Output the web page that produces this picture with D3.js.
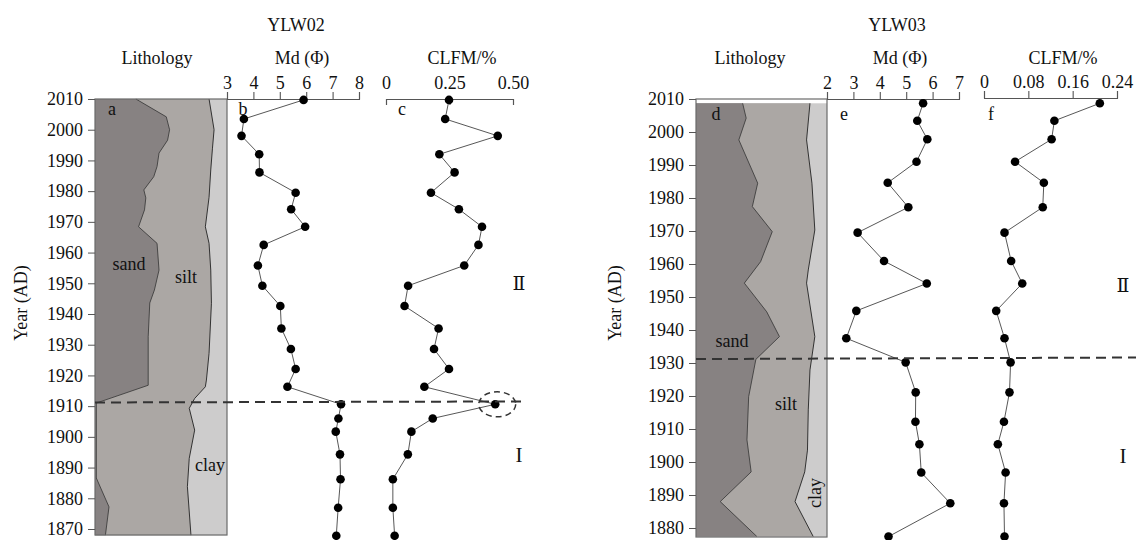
<!DOCTYPE html>
<html>
<head>
<meta charset="utf-8">
<script src="https://cdn.jsdelivr.net/npm/d3@7"></script>
<style>
  body { margin: 0; background: #fff; }
</style>
</head>
<body>
<svg id="chart" width="1136" height="540"></svg>
<script>
// ---- YLW02 ----
var yearsA = [2009.7, 2003.5, 1998, 1992, 1986.1, 1979.5, 1974.1, 1968.4, 1962.5, 1955.8, 1949.2, 1942.6,
              1935.3, 1928.6, 1922.1, 1916.3, 1910.6, 1906, 1901.7, 1894.3, 1886.2, 1876.9, 1867.8];
var mdA = [5.9, 3.64, 3.55, 4.22, 4.23, 5.6, 5.43, 5.96, 4.39, 4.17, 4.34, 5.02,
           5.06, 5.42, 5.6, 5.29, 7.32, 7.22, 7.12, 7.28, 7.3, 7.21, 7.14];
var clfmA = [0.248, 0.233, 0.44, 0.21, 0.27, 0.177, 0.287, 0.378, 0.364, 0.308, 0.087, 0.073,
             0.207, 0.189, 0.248, 0.151, 0.43, 0.184, 0.1, 0.086, 0.027, 0.027, 0.034];
var sandYearsA = [2010, 2004.2, 2000, 1996.6, 1992.4, 1988, 1984.7, 1980.4, 1977.8, 1973.9, 1968.4, 1963,
                  1954.3, 1947.8, 1943.6, 1932.6, 1916.8, 1911, 1886.6, 1877.2, 1868];
var sandA = [31, 54, 56.5, 55, 48.5, 47, 44.5, 37, 38.5, 37.5, 33, 47,
             48.5, 45, 41.5, 40.3, 40.3, 1, 1, 10.6, 7.9];
var siltYearsA = [2010, 2000, 1994, 1986.9, 1978, 1968.4, 1963, 1954.3, 1943.5, 1927.2, 1918.5, 1916.3,
                  1912.5, 1909.3, 1902.2, 1893, 1883.8, 1868];
var siltA = [86.4, 90.2, 89, 87.7, 86.4, 83.6, 86.4, 87.7, 88.2, 86.4, 84.4, 83.6,
             75.5, 71.4, 75.5, 71.4, 70, 72.7];
var mdTicksA = [3, 4, 5, 6, 7, 8];
var clfmTicksA = [0, 0.25, 0.5];
var yearTicksA = d3.range(1870, 2011, 10);

// ---- YLW03 ----
var yearsB = [2008.7, 2003.4, 1997.8, 1991, 1984.6, 1977.2, 1969.5, 1960.9, 1954.1, 1945.8, 1937.5, 1930.2,
              1921.1, 1912.2, 1905.4, 1896.8, 1887.5, 1877.4];
var mdB = [5.64, 5.42, 5.8, 5.39, 4.3, 5.08, 3.16, 4.16, 5.78, 3.11, 2.73, 4.98,
           5.36, 5.35, 5.5, 5.57, 6.67, 4.33];
var clfmB = [0.209, 0.127, 0.122, 0.056, 0.108, 0.106, 0.037, 0.049, 0.069, 0.022, 0.037, 0.048,
             0.046, 0.036, 0.025, 0.039, 0.036, 0.037];
var sandYearsB = [2008.7, 2004.2, 1997.6, 1984.5, 1977.4, 1969.8, 1960.7, 1954.2, 1945.5, 1938, 1931.1,
                  1919.8, 1906.7, 1897, 1888, 1877.4];
var sandB = [35.6, 38.3, 32.7, 47.1, 43, 58.2, 49.3, 36.9, 54, 63.7, 45.7,
             40.2, 38.9, 42.1, 18.5, 46.5];
var siltYearsB = [2008.7, 1997.6, 1984.5, 1970.3, 1958.2, 1954.2, 1938, 1927.9, 1915.8, 1903.6, 1897, 1888, 1877.4];
var siltB = [87, 84.4, 88.5, 90.7, 85.7, 84.4, 90.7, 87, 85.7, 85.1, 83, 75.6, 89.5];
var mdTicksB = [2, 3, 4, 5, 6, 7];
var clfmTicksB = [0, 0.08, 0.16, 0.24];
var yearTicksB = d3.range(1880, 2011, 10);

var SERIF = '"Liberation Serif", "Times New Roman", "DejaVu Serif", serif';
var svg = d3.select("#chart");

function fmt(v) { return v === 0 ? "0" : d3.format(".2f")(v); }

function drawPanel(p) {
  var g = svg.append("g");
  var y = d3.scaleLinear().domain(p.yDomain).range(p.yRange);
  var lx = d3.scaleLinear().domain([0, 100]).range([p.boxX0, p.boxX1]);
  var mx = d3.scaleLinear().domain(p.mdDomain).range(p.mdRange);
  var cx = d3.scaleLinear().domain(p.clfmDomain).range(p.clfmRange);

  // lithology column
  var top = y(p.fillTop), bot = y(p.fillBot);
  g.append("rect").attr("x", p.boxX0).attr("y", top).attr("width", p.boxX1 - p.boxX0)
    .attr("height", bot - top).attr("fill", "#cdcccc");
  var silt = p.siltYears.map(function (d, i) { return [d, p.silt[i]]; });
  var sand = p.sandYears.map(function (d, i) { return [d, p.sand[i]]; });
  var area = d3.area().y(function (d) { return y(d[0]); }).x0(p.boxX0).x1(function (d) { return lx(d[1]); });
  g.append("path").datum(silt).attr("d", area).attr("fill", "#aba7a4");
  g.append("path").datum(sand).attr("d", area).attr("fill", "#878282");
  var bline = d3.line().y(function (d) { return y(d[0]); }).x(function (d) { return lx(d[1]); });
  g.append("path").datum(silt).attr("d", bline).attr("fill", "none").attr("stroke", "#222").attr("stroke-width", 0.9);
  g.append("path").datum(sand).attr("d", bline).attr("fill", "none").attr("stroke", "#333").attr("stroke-width", 0.8);
  g.append("rect").attr("x", p.boxX0).attr("y", y(2010)).attr("width", p.boxX1 - p.boxX0)
    .attr("height", p.boxBottom - y(2010)).attr("fill", "none").attr("stroke", "#6a6a6a").attr("stroke-width", 1.2);

  // year axis on the left of the column
  var ya = g.append("g").attr("transform", "translate(" + p.boxX0 + ",0)")
    .call(d3.axisLeft(y).tickValues(p.yearTicks).tickFormat(d3.format("d")).tickSize(7).tickPadding(5).tickSizeOuter(0));
  ya.select(".domain").remove();
  ya.selectAll("line").attr("stroke", "#555");

  // top axes
  var ma = g.append("g").attr("transform", "translate(0," + y(2010) + ")")
    .call(d3.axisTop(mx).tickValues(p.mdTicks).tickFormat(d3.format("d")).tickSize(7).tickPadding(3).tickSizeOuter(7));
  var ca = g.append("g").attr("transform", "translate(0," + (y(2010) + p.clfmShift) + ")")
    .call(d3.axisTop(cx).tickValues(p.clfmTicks).tickFormat(fmt)
      .tickSize(p.clfmTickSize).tickSizeOuter(p.clfmTickSize).tickPadding(p.clfmPad));
  [ma, ca].forEach(function (a) {
    a.selectAll("line,path").attr("stroke", "#555").attr("stroke-width", 1.1);
  });
  [ya, ma, ca].forEach(function (a) {
    a.attr("font-family", null).attr("font-size", null);
    a.selectAll("text").style("font-family", SERIF).style("font-size", "18px").attr("fill", "#111");
  });

  // series
  var line = d3.line().x(function (d) { return d[0]; }).y(function (d) { return d[1]; });
  var mdPts = p.years.map(function (d, i) { return [mx(p.md[i]), y(d)]; });
  var clPts = p.years.map(function (d, i) { return [cx(p.clfm[i]), y(d)]; });
  [mdPts, clPts].forEach(function (pts) {
    g.append("path").datum(pts).attr("d", line).attr("fill", "none").attr("stroke", "#444").attr("stroke-width", 0.9);
    g.selectAll(null).data(pts).enter().append("circle")
      .attr("cx", function (d) { return d[0]; }).attr("cy", function (d) { return d[1]; })
      .attr("r", 4.3).attr("fill", "#000");
  });

  // dashed boundary
  g.append("line").attr("x1", p.boxX0).attr("x2", p.dashX1)
    .attr("y1", y(p.dashYear)).attr("y2", y(p.dashYear) - p.dashTilt)
    .attr("stroke", "#333").attr("stroke-width", 2).attr("stroke-dasharray", "10,6");
  if (p.ring !== undefined) {
    var i = p.ring;
    g.append("ellipse").attr("cx", cx(p.clfm[i]) + 2).attr("cy", y(p.years[i])).attr("rx", 18.5).attr("ry", 12.5)
      .attr("fill", "none").attr("stroke", "#333").attr("stroke-width", 1.5).attr("stroke-dasharray", "6,4");
  }

  // texts
  function txt(x, yy, s, size, anchor) {
    return g.append("text").attr("x", x).attr("y", yy).attr("text-anchor", anchor || "middle")
      .style("font-family", SERIF).style("font-size", (size || 18) + "px").attr("fill", "#111").text(s);
  }
  txt(p.titleX, 31, p.title);
  txt(p.lithX, 64, "Lithology");
  txt(p.mdTitleX, 64, "Md (\u03A6)");
  txt(p.clTitleX, 64, "CLFM/%");
  p.letters.forEach(function (l) { txt(l[0], p.letterY, l[1]); });
  p.labels.forEach(function (l) {
    var t = txt(l[0], l[1], l[2]);
    if (l[3]) t.attr("transform", "rotate(-90," + l[0] + "," + l[1] + ")").attr("dy", "0.32em");
  });
  txt(p.romanX, p.romanY[0], "\u2161", 19).style("font-family", '"DejaVu Serif", "Noto Sans CJK SC", serif');
  txt(p.romanX, p.romanY[1], "I", 21);
  txt(0, 0, "Year (AD)").attr("transform", "translate(" + p.yLabelX + ",303) rotate(-90)").attr("dy", "0.35em");
}

drawPanel({
  yDomain: [2010, 1870], yRange: [99, 529], yearTicks: yearTicksA,
  boxX0: 95, boxX1: 227, boxBottom: 535, fillTop: 2010, fillBot: 1868,
  mdDomain: [3, 8], mdRange: [227, 359], mdTicks: mdTicksA,
  clfmDomain: [0, 0.5], clfmRange: [386, 513], clfmTicks: clfmTicksA,
  clfmTickSize: -6, clfmPad: 10, clfmShift: 0,
  years: yearsA, md: mdA, clfm: clfmA,
  sandYears: sandYearsA, sand: sandA, siltYears: siltYearsA, silt: siltA,
  dashYear: 1911.2, dashX1: 523, dashTilt: 1, ring: 16,
  title: "YLW02", titleX: 296, lithX: 157, mdTitleX: 302, clTitleX: 462,
  letters: [[112, "a"], [243, "b"], [402, "c"]], letterY: 115,
  labels: [[129, 270, "sand"], [186, 283, "silt"], [210, 471, "clay"]],
  romanX: 519, romanY: [290, 462], yLabelX: 21
});

drawPanel({
  yDomain: [2010, 1880], yRange: [99, 528], yearTicks: yearTicksB,
  boxX0: 696, boxX1: 827, boxBottom: 537, fillTop: 2008.7, fillBot: 1877.4,
  mdDomain: [2, 7], mdRange: [827, 959], mdTicks: mdTicksB,
  clfmDomain: [0, 0.24], clfmRange: [984, 1117], clfmTicks: clfmTicksB,
  clfmTickSize: 7, clfmPad: 3, clfmShift: -1,
  years: yearsB, md: mdB, clfm: clfmB,
  sandYears: sandYearsB, sand: sandB, siltYears: siltYearsB, silt: siltB,
  dashYear: 1931.2, dashX1: 1136, dashTilt: 1.5,
  title: "YLW03", titleX: 897, lithX: 750, mdTitleX: 900, clTitleX: 1063,
  letters: [[716, "d"], [844, "e"], [991, "f"]], letterY: 120,
  labels: [[732, 347, "sand"], [786, 410, "silt"], [815, 493, "clay", true]],
  romanX: 1123, romanY: [292, 463], yLabelX: 615
});
</script>
</body>
</html>
